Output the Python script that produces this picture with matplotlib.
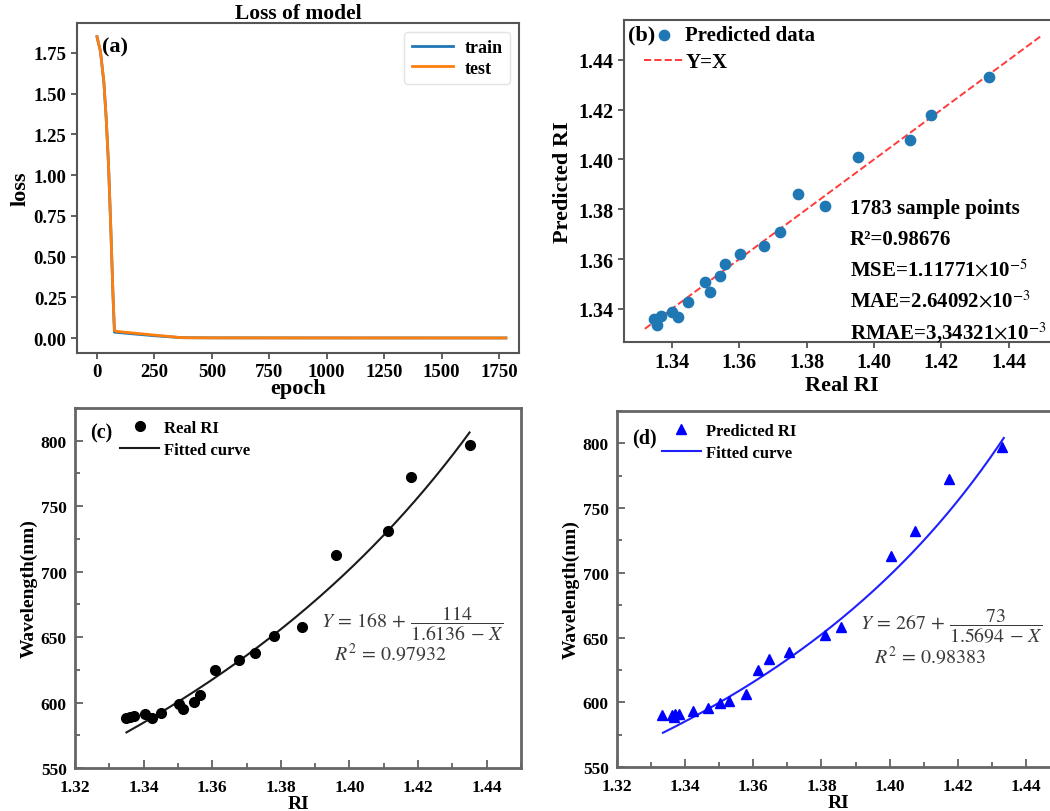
import numpy as np
import matplotlib
matplotlib.use("Agg")
import matplotlib.pyplot as plt
from matplotlib.ticker import MultipleLocator, FormatStrFormatter

plt.rcParams["font.family"] = ["Liberation Serif", "DejaVu Serif"]
plt.rcParams["axes.labelweight"] = "bold"
plt.rcParams["axes.titleweight"] = "bold"
plt.rcParams["mathtext.fontset"] = "stix"

# ---- (a) training history ----
epochs = [0, 15, 30, 40, 50, 60, 70, 76, 90, 250, 370, 500, 1000, 1780]
train_loss = [1.85, 1.76, 1.57, 1.35, 1.07, 0.68, 0.25, 0.036, 0.034, 0.014, 0.002, 0.001, 0.0005, 0.0003]
test_loss = [1.85, 1.76, 1.57, 1.35, 1.07, 0.68, 0.25, 0.045, 0.040, 0.018, 0.002, 0.001, 0.0005, 0.0003]

# ---- (b) predicted vs real refractive index ----
real_ri = [1.3348, 1.3356, 1.3368, 1.3400, 1.3419, 1.3447, 1.3498, 1.3512, 1.3543, 1.3558,
           1.3603, 1.3674, 1.3720, 1.3773, 1.3854, 1.3953, 1.4106, 1.4169, 1.4340]
pred_ri = [1.3360, 1.3336, 1.3373, 1.3387, 1.3367, 1.3427, 1.3507, 1.3467, 1.3531, 1.3580,
           1.3619, 1.3651, 1.3707, 1.3861, 1.3814, 1.4008, 1.4079, 1.4177, 1.4333]
metrics = ["1783 sample points",
           "R²=0.98676",
           r"MSE=1.11771$\times$10$^{-5}$",
           r"MAE=2.64092$\times$10$^{-3}$",
           r"RMAE=3,34321$\times$10$^{-3}$"]

# ---- (c) resonance wavelength vs real RI ----
c_ri = [1.3350, 1.3360, 1.3373, 1.3404, 1.3423, 1.3452, 1.3504, 1.3515, 1.3546, 1.3565,
        1.3607, 1.3678, 1.3725, 1.3781, 1.3861, 1.3960, 1.4113, 1.4178, 1.4350]
c_wl = [588.5, 589.0, 590.0, 591.0, 588.5, 592.0, 599.0, 595.4, 600.7, 605.8,
        624.7, 632.8, 637.7, 651.2, 657.8, 712.8, 731.2, 772.2, 796.7]
c_fit = (168, 114, 1.6136)
c_fit_range = (1.335, 1.435)
c_r2 = "0.97932"

# ---- (d) resonance wavelength vs predicted RI ----
d_ri = [1.3332, 1.3360, 1.3367, 1.3371, 1.3382, 1.3423, 1.3466, 1.3502, 1.3528, 1.3578,
        1.3614, 1.3647, 1.3704, 1.3811, 1.3856, 1.4005, 1.4075, 1.4174, 1.4331]
d_wl = [589.8, 590.3, 589.0, 590.8, 591.3, 593.0, 595.7, 599.3, 601.3, 606.5,
        625.0, 633.2, 638.5, 651.6, 658.3, 713.2, 732.0, 772.8, 796.9]
d_fit = (267, 73, 1.5694)
d_fit_range = (1.3335, 1.4335)
d_r2 = "0.98383"

W, H = 1050, 812
fig = plt.figure(figsize=(W / 100, H / 100), dpi=100)


def box(x0, y0, x1, y1):
    """Axes rectangle from pixel edges measured from the top-left corner."""
    return [x0 / W, 1 - y1 / H, (x1 - x0) / W, (y1 - y0) / H]


def bold_ticks(ax):
    for lab in ax.get_xticklabels() + ax.get_yticklabels():
        lab.set_fontweight("bold")


# ================= (a) =================
axa = fig.add_axes(box(77, 24, 519, 354))
axa.plot(epochs, train_loss, color="#1f77b4", lw=2, label="train")
axa.plot(epochs, test_loss, color="#ff7f0e", lw=2, label="test")
axa.set_xlim(-87, 1837)
axa.set_ylim(-0.092, 1.934)
axa.set_xticks(np.arange(0, 1751, 250))
axa.set_yticks(np.arange(0, 1.76, 0.25))
axa.yaxis.set_major_formatter(FormatStrFormatter("%.2f"))
axa.tick_params(labelsize=13.5, width=1.2, length=4, color="#444444")
for s in axa.spines.values():
    s.set_color("#555555")
    s.set_linewidth(1.5)
axa.set_title("Loss of model", fontsize=15.5, pad=3)
axa.set_xlabel("epoch", fontsize=16, labelpad=-2)
axa.set_ylabel("loss", fontsize=16, labelpad=2)
axa.text(0.057, 0.93, "(a)", transform=axa.transAxes, fontsize=16, fontweight="bold",
         va="center")
axa.legend(loc="upper right", prop=dict(size=13, weight="bold"), handlelength=2.3,
           handletextpad=0.65, borderpad=0.4, labelspacing=0.2, framealpha=0.8,
           edgecolor="#dddddd", borderaxespad=0, bbox_to_anchor=(0.98, 0.973))
bold_ticks(axa)

# ================= (b) =================
axb = fig.add_axes(box(624, 21, 1060, 343))
axb.scatter(real_ri, pred_ri, s=55, color="#1f77b4", label="Predicted data", zorder=3)
line_x = np.array([1.332, 1.4495])
axb.plot(line_x, line_x, ls="--", color="#ff3b3b", lw=1.4, label="Y=X", zorder=2)
axb.set_xlim(1.3258, 1.4552)
axb.set_ylim(1.3267, 1.456)
axb.set_xticks(np.arange(1.34, 1.4401, 0.02))
axb.set_yticks(np.arange(1.34, 1.4401, 0.02))
axb.xaxis.set_major_formatter(FormatStrFormatter("%.2f"))
axb.yaxis.set_major_formatter(FormatStrFormatter("%.2f"))
axb.tick_params(labelsize=14.5, width=1.2, length=4, color="#444444")
for s in axb.spines.values():
    s.set_color("#555555")
    s.set_linewidth(1.5)
axb.set_xlabel("Real RI", fontsize=16, labelpad=2)
axb.set_ylabel("Predicted RI", fontsize=16, labelpad=4)
axb.text(0.009, 0.955, "(b)", transform=axb.transAxes, fontsize=16, fontweight="bold",
         va="center")
axb.legend(loc="upper left", bbox_to_anchor=(0.007, 1.036), prop=dict(size=15, weight="bold"),
           frameon=False, handlelength=1.9, handletextpad=0.1, labelspacing=0.35,
           borderpad=0.3)
for i, t in enumerate(metrics):
    fig.text(850 / W, 1 - (209 + i * 31) / H, t, fontsize=15, fontweight="bold",
             va="center")
bold_ticks(axb)


def wavelength_panel(ax, ri, wl, marker, color, line_color, label, fit, fit_range, r2,
                     tag, tag_y, eq_pos, r2_pos):
    ax.plot(ri, wl, ls="none", marker=marker, color=color, ms=7 if marker == "o" else 7.5,
            label=label, zorder=3)
    a, b, c = fit
    xs = np.linspace(fit_range[0], fit_range[1], 200)
    ax.plot(xs, a + b / (c - xs), color=line_color, lw=1.5, label="Fitted curve", zorder=2)
    ax.set_xlim(1.32, 1.45)
    ax.set_ylim(550, 825)
    ax.xaxis.set_minor_locator(MultipleLocator(0.01))
    ax.yaxis.set_major_locator(MultipleLocator(50))
    ax.yaxis.set_minor_locator(MultipleLocator(25))
    ax.set_xticks(np.arange(1.32, 1.4401, 0.02))
    ax.xaxis.set_major_formatter(FormatStrFormatter("%.2f"))
    ax.tick_params(which="both", direction="in", labelsize=12.5, color="#555555", width=1.2)
    ax.tick_params(which="major", length=6)
    ax.tick_params(which="minor", length=3.5)
    ax.tick_params(axis="x", pad=8)
    ax.tick_params(axis="y", pad=6)
    for s in ax.spines.values():
        s.set_color("#666666")
        s.set_linewidth(2)
    ax.set_xlabel("RI", fontsize=14, labelpad=0)
    ax.set_ylabel("Wavelength(nm)", fontsize=14, labelpad=2)
    ax.text(0.035, tag_y, tag, transform=ax.transAxes, fontsize=14.5, fontweight="bold",
            va="center")
    ax.legend(loc="upper left", bbox_to_anchor=(0.072, 1.004), prop=dict(size=12, weight="bold"),
              frameon=False, handlelength=2.3, handletextpad=0.3, labelspacing=0.35,
              borderpad=0.3)
    ax.text(eq_pos[0], eq_pos[1],
            r"$Y\,=\,%d\,+\,\dfrac{%d}{%.4f\,-\,X}$" % (a, b, c),
            transform=ax.transAxes, fontsize=14.3, color="#3a3a3a", va="center")
    ax.text(r2_pos[0], r2_pos[1], r"$R^2\,=\,%s$" % r2, transform=ax.transAxes,
            fontsize=14.3, color="#3a3a3a", va="center")
    bold_ticks(ax)


# ================= (c) =================
axc = fig.add_axes(box(75, 409, 521, 769))
wavelength_panel(axc, c_ri, c_wl, "o", "black", "#1a1a1a", "Real RI", c_fit, c_fit_range,
                 c_r2, "(c)", 0.933, (0.552, 0.403), (0.58, 0.317))

# ================= (d) =================
axd = fig.add_axes(box(617, 412, 1060, 768))
wavelength_panel(axd, d_ri, d_wl, "^", "#0000ff", "#1f1fff", "Predicted RI", d_fit,
                 d_fit_range, d_r2, "(d)", 0.927, (0.549, 0.396), (0.58, 0.309))

fig.savefig("out.png", dpi=100)
